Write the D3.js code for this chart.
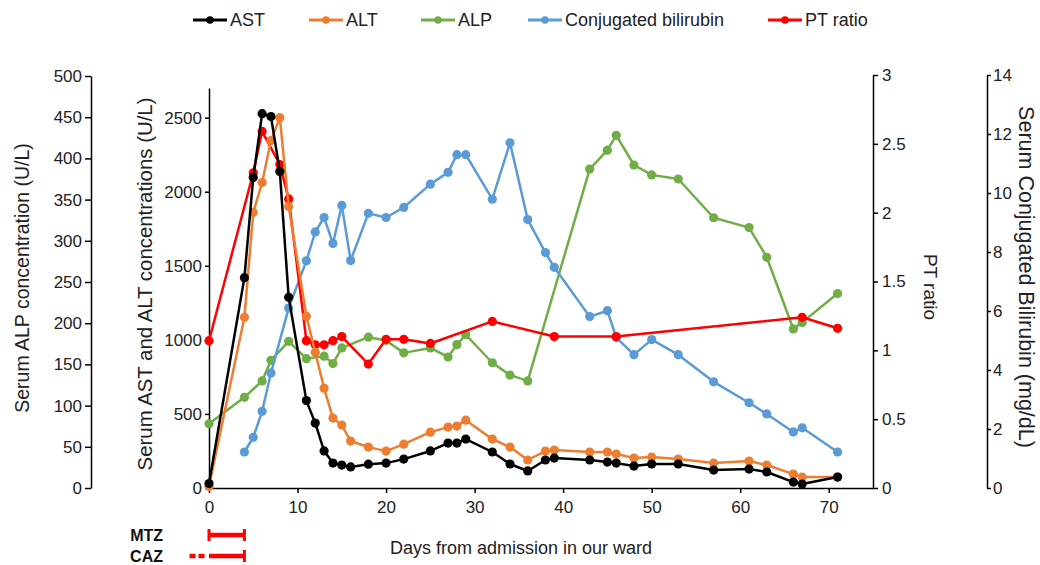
<!DOCTYPE html>
<html>
<head>
<meta charset="utf-8">
<script src="https://cdn.jsdelivr.net/npm/d3@7"></script>
<style>
  body { margin: 0; background: #fff; }
  svg { display: block; font-family: "Liberation Sans", Arial, sans-serif; }
</style>
</head>
<body>
<svg id="chart" width="1040" height="565"></svg>
<script>
// days of each sample
var days = [0,4,5,6,7,8,9,11,12,13,14,15,16,18,20,22,25,27,28,29,32,34,36,38,39,43,45,46,48,50,53,57,61,63,66,67,71];
var astValues = [30,1420,2096,2527,2507,2136,1287,590,438,250,168,155,142,161,168,195,250,303,303,330,243,162,115,189,202,189,175,168,148,162,162,121,128,108,40,27,74];
var altValues = [10,1152,1860,2062,2345,2500,1900,1160,916,674,472,425,317,276,249,296,377,411,418,458,330,276,189,249,256,243,243,229,202,209,195,168,182,155,94,74,74];

var alpDays = [0,4,6,7,9,11,13,14,15,18,20,22,25,27,28,29,32,34,36,43,45,46,48,50,53,57,61,63,66,67,71];
var alpValues = [78,110,130,155,178,157,160,151,170,183,179,164,170,159,174,186,152,137,130,387,410,428,392,380,375,328,316,280,193,201,236];

var biliDays = [4,5,6,7,9,11,12,13,14,15,16,18,20,22,25,27,28,29,32,34,36,38,39,43,45,46,48,50,53,57,61,63,66,67,71];
var biliValues = [1.22,1.72,2.6,3.9,6.1,7.7,8.68,9.17,8.29,9.58,7.71,9.31,9.17,9.51,10.3,10.7,11.3,11.3,9.79,11.7,9.1,7.98,7.48,5.81,6.01,5.10,4.52,5.03,4.52,3.60,2.89,2.51,1.90,2.04,1.22];

var ptDays = [0,5,6,8,9,11,12,13,14,15,18,20,22,25,32,39,46,67,71];
var ptValues = [1.07,2.29,2.59,2.35,2.10,1.07,1.04,1.04,1.07,1.10,0.90,1.08,1.08,1.05,1.21,1.10,1.10,1.24,1.16];

var legendLabels = ["AST", "ALT", "ALP", "Conjugated bilirubin", "PT ratio"];
var xTicks = [0,10,20,30,40,50,60,70];
var astTicks = [0,500,1000,1500,2000,2500];
var alpTicks = [0,50,100,150,200,250,300,350,400,450,500];
var ptTicks = [0,0.5,1,1.5,2,2.5,3];
var biliTicks = [0,2,4,6,8,10,12,14];

// treatments: solid from start to end, dotted lead-in before
var drugs = ["MTZ", "CAZ"];
var drugStart = [0, 0];
var drugEnd = [4, 4];
var drugLeadIn = [null, -2.2];

var colors = {AST: "#000000", ALT: "#ED7D31", ALP: "#70AD47", bili: "#5B9BD5", PT: "#FF0000"};
var font = '"Liberation Sans", Arial, sans-serif';

var svg = d3.select("#chart");

var x = d3.scaleLinear().domain([0, 75]).range([209, 873]);
var yAst = d3.scaleLinear().domain([0, 2700]).range([488, 88]);
var yAlp = d3.scaleLinear().domain([0, 500]).range([488, 76]);
var yPt = d3.scaleLinear().domain([0, 3]).range([488, 75]);
var yBili = d3.scaleLinear().domain([0, 14]).range([488, 75]);

var plain = function(d) { return String(d); };

function styleAxis(g) {
  g.selectAll(".domain").attr("stroke", "#000").attr("stroke-width", 1.5);
  g.selectAll(".tick line").attr("stroke", "#000").attr("stroke-width", 1.5);
  g.selectAll(".tick text").attr("font-size", 17).attr("font-family", font).attr("fill", "#222");
}

// x axis
svg.append("g")
  .attr("transform", "translate(0,488)")
  .call(d3.axisBottom(x).tickValues(xTicks).tickSize(5).tickSizeOuter(0).tickPadding(8).tickFormat(plain))
  .call(styleAxis);

// AST / ALT axis
svg.append("g")
  .attr("transform", "translate(209,0)")
  .call(d3.axisLeft(yAst).tickValues(astTicks).tickSize(4).tickSizeOuter(0).tickPadding(3).tickFormat(plain))
  .call(styleAxis);

// ALP axis
svg.append("g")
  .attr("transform", "translate(91,0)")
  .call(d3.axisLeft(yAlp).tickValues(alpTicks).tickSize(6).tickSizeOuter(0).tickPadding(3).tickFormat(plain))
  .call(styleAxis);

// PT axis
svg.append("g")
  .attr("transform", "translate(873,0)")
  .call(d3.axisRight(yPt).tickValues(ptTicks).tickSize(5).tickSizeOuter(0).tickPadding(4).tickFormat(plain))
  .call(styleAxis);

// bilirubin axis
svg.append("g")
  .attr("transform", "translate(987,0)")
  .call(d3.axisRight(yBili).tickValues(biliTicks).tickSize(4).tickSizeOuter(0).tickPadding(2).tickFormat(plain))
  .call(styleAxis);

// axis titles
function title(txt, tx, ty, rot, size) {
  svg.append("text")
    .attr("transform", "translate(" + tx + "," + ty + ") rotate(" + rot + ")")
    .attr("text-anchor", "middle")
    .attr("dominant-baseline", "central")
    .attr("font-size", size)
    .attr("fill", "#222")
    .text(txt);
}
title("Serum ALP concentration (U/L)", 22, 278, -90, 19.5);
title("Serum AST and ALT concentrations (U/L)", 145, 284, -90, 20.4);
title("PT ratio", 930, 287, 90, 19);
title("Serum Conjugated Bilirubin (mg/dL)", 1026, 277, 90, 21.5);
title("Days from admission in our ward", 521, 548, 0, 18);

// series
var series = [
  {key: "ALP", xs: alpDays, ys: alpValues, y: yAlp},
  {key: "bili", xs: biliDays, ys: biliValues, y: yBili},
  {key: "PT", xs: ptDays, ys: ptValues, y: yPt},
  {key: "ALT", xs: days, ys: altValues, y: yAst},
  {key: "AST", xs: days, ys: astValues, y: yAst}
];

series.forEach(function(s) {
  var pts = s.xs.map(function(d, i) { return [d, s.ys[i]]; });
  var line = d3.line().x(function(d){ return x(d[0]); }).y(function(d){ return s.y(d[1]); });
  var g = svg.append("g");
  g.append("path")
    .datum(pts)
    .attr("d", line)
    .attr("fill", "none")
    .attr("stroke", colors[s.key])
    .attr("stroke-width", 2.5)
    .attr("stroke-linejoin", "round");
  g.selectAll("circle")
    .data(pts).enter()
    .append("circle")
    .attr("cx", function(d){ return x(d[0]); })
    .attr("cy", function(d){ return s.y(d[1]); })
    .attr("r", 4.6)
    .attr("fill", colors[s.key]);
});

// legend
var legendKeys = ["AST", "ALT", "ALP", "bili", "PT"];
var legendX = [193, 309, 421, 528, 768];
legendLabels.forEach(function(lab, i) {
  var g = svg.append("g").attr("transform", "translate(" + legendX[i] + ",20)");
  g.append("line").attr("x1", 0).attr("x2", 34).attr("y1", 0).attr("y2", 0)
    .attr("stroke", colors[legendKeys[i]]).attr("stroke-width", 3);
  g.append("circle").attr("cx", 17).attr("cy", 0).attr("r", 3.8).attr("fill", colors[legendKeys[i]]);
  g.append("text").attr("x", 37).attr("y", 0).attr("dominant-baseline", "central")
    .attr("font-size", 18).attr("fill", "#222").text(lab);
});

// treatment bars
var drugY = [535, 556];
drugs.forEach(function(name, i) {
  var yy = drugY[i];
  svg.append("text").attr("x", 163).attr("y", yy).attr("text-anchor", "end")
    .attr("dominant-baseline", "central").attr("font-size", 16).attr("font-weight", "bold")
    .attr("fill", "#111").text(name);
  if (drugLeadIn[i] !== null) {
    svg.append("line").attr("x1", x(drugLeadIn[i])).attr("x2", x(drugStart[i]) - 3)
      .attr("y1", yy).attr("y2", yy).attr("stroke", colors.PT).attr("stroke-width", 4.5)
      .attr("stroke-dasharray", "6,3");
  } else {
    svg.append("line").attr("x1", x(drugStart[i])).attr("x2", x(drugStart[i]))
      .attr("y1", yy - 6).attr("y2", yy + 6).attr("stroke", colors.PT).attr("stroke-width", 3);
  }
  svg.append("line").attr("x1", x(drugStart[i])).attr("x2", x(drugEnd[i]))
    .attr("y1", yy).attr("y2", yy).attr("stroke", colors.PT).attr("stroke-width", 4.5);
  svg.append("line").attr("x1", x(drugEnd[i])).attr("x2", x(drugEnd[i]))
    .attr("y1", yy - 6).attr("y2", yy + 6).attr("stroke", colors.PT).attr("stroke-width", 3);
});
</script>
</body>
</html>
